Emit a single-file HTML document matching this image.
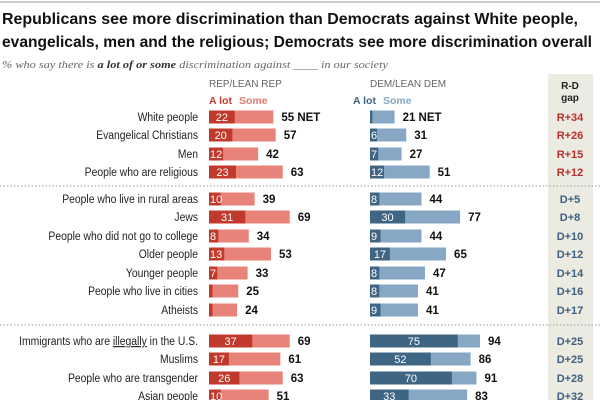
<!DOCTYPE html>
<html><head><meta charset="utf-8"><style>
body{margin:0;background:#fff;width:600px;height:400px;overflow:hidden;font-family:"Liberation Sans",sans-serif}
</style></head><body>
<svg id="c" width="600" height="400" font-family="Liberation Sans, sans-serif">
<line x1="0" y1="2" x2="600" y2="2" stroke="#bbb" stroke-width="1.5"/>
<rect x="548" y="74" width="45" height="330" fill="#ecebe2"/>
<text x="2" y="24" font-size="16" font-weight="bold" fill="#111" textLength="576" lengthAdjust="spacingAndGlyphs">Republicans see more discrimination than Democrats against White people,</text>
<text x="2" y="47" font-size="16" font-weight="bold" fill="#111" textLength="590" lengthAdjust="spacingAndGlyphs">evangelicals, men and the religious; Democrats see more discrimination overall</text>
<text x="2" y="68" font-size="11" font-style="italic" fill="#666" style="font-family:'Liberation Serif',serif" textLength="386" lengthAdjust="spacingAndGlyphs">% who say there is <tspan font-weight="bold" fill="#333">a lot of or some</tspan> discrimination against ____ in our society</text>
<text x="209" y="87" font-size="10" fill="#666">REP/LEAN REP</text>
<text x="370" y="87" font-size="10" fill="#666">DEM/LEAN DEM</text>
<text x="209" y="104" font-size="10.5" font-weight="bold" fill="#c0392b">A lot</text>
<text x="239" y="104" font-size="10.5" font-weight="bold" fill="#e0786e">Some</text>
<text x="353" y="104" font-size="10.5" font-weight="bold" fill="#3f6585">A lot</text>
<text x="383" y="104" font-size="10.5" font-weight="bold" fill="#86a8c4">Some</text>
<text x="570" y="89" font-size="10" font-weight="bold" fill="#222" text-anchor="middle">R-D</text>
<text x="570" y="101" font-size="10" font-weight="bold" fill="#222" text-anchor="middle">gap</text>
<line x1="0" y1="186" x2="600" y2="186" stroke="#999" stroke-dasharray="1.5,2"/>
<line x1="0" y1="325" x2="600" y2="325" stroke="#999" stroke-dasharray="1.5,2"/>
<g id="rows"></g>
</svg>
<script>
const categories=["White people","Evangelical Christians","Men","People who are religious","People who live in rural areas","Jews","People who did not go to college","Older people","Younger people","People who live in cities","Atheists","Immigrants who are illegally in the U.S.","Muslims","People who are transgender","Asian people"];
const repALot=[22,20,12,23,10,31,8,13,7,3,3,37,17,26,10];
const repNet=[55,57,42,63,39,69,34,53,33,25,24,69,61,63,51];
const demALot=[2,6,7,12,8,30,9,17,8,8,9,75,52,70,33];
const demNet=[21,31,27,51,44,77,44,65,47,41,41,94,86,91,83];
const gaps=["R+34","R+26","R+15","R+12","D+5","D+8","D+10","D+12","D+14","D+16","D+17","D+25","D+25","D+28","D+32"];
const rowY=[117,135,154,172,199,217,236,254,273,291,310,341,359,378,396];
const K=1.17, RX=209, DX=370;
const xr=v=>RX+v*K, xd=v=>DX+v*K;
const NS="http://www.w3.org/2000/svg", g=document.getElementById('rows');
function mk(t,a,txt){const e=document.createElementNS(NS,t);for(const k in a)e.setAttribute(k,a[k]);if(txt!=null)e.textContent=txt;g.appendChild(e);return e;}
categories.forEach((c,i)=>{
 const y=rowY[i];
 let e=mk('text',{x:198,y:y+4,'font-size':11.5,fill:'#222','text-anchor':'end'},c);
 if(i==11){e.textContent='';e.appendChild(document.createTextNode('Immigrants who are '));const u=document.createElementNS(NS,'tspan');u.setAttribute('text-decoration','underline');u.textContent='illegally';e.appendChild(u);e.appendChild(document.createTextNode(' in the U.S.'));}
 e.setAttribute('transform','translate(198 0) scale(0.9 1) translate(-198 0)');
 
 
 e=mk('rect',{x:RX,y:y-6.5,width:xr(repNet[i])-RX,height:13,fill:'#e8837a'});
 
 
 e=mk('rect',{x:RX,y:y-6.5,width:xr(repALot[i])-RX,height:13,fill:'#c0392b'});
 
 
 if(repALot[i]>=5){e=mk('text',{x:repALot[i]>=15?(RX+xr(repALot[i]))/2:RX+1,y:y+4,'font-size':11,fill:'#fff','text-anchor':repALot[i]>=15?'middle':'start'},repALot[i]);
 
 }
 e=mk('text',{x:xr(repNet[i])+8,y:y+4,'font-size':11.5,'font-weight':'bold',fill:'#111'},repNet[i]+(i==0?'  NET':''));
 e.setAttribute('xml:space','preserve');
 
 
 e=mk('rect',{x:DX,y:y-6.5,width:xd(demNet[i])-DX,height:13,fill:'#86a8c4'});
 
 
 e=mk('rect',{x:DX,y:y-6.5,width:xd(demALot[i])-DX,height:13,fill:'#3f6585'});
 
 
 if(demALot[i]>=5){e=mk('text',{x:demALot[i]>=15?(DX+xd(demALot[i]))/2:DX+1,y:y+4,'font-size':11,fill:'#fff','text-anchor':demALot[i]>=15?'middle':'start'},demALot[i]);
 
 }
 e=mk('text',{x:xd(demNet[i])+8,y:y+4,'font-size':11.5,'font-weight':'bold',fill:'#111'},demNet[i]+(i==0?'  NET':''));
 e.setAttribute('xml:space','preserve');
 
 
 e=mk('text',{x:570,y:y+4,'font-size':11,'font-weight':'bold','text-anchor':'middle',fill:gaps[i][0]=='R'?'#b5302a':'#3d5f80'},gaps[i]);
 
 
});
</script>
</body></html>
